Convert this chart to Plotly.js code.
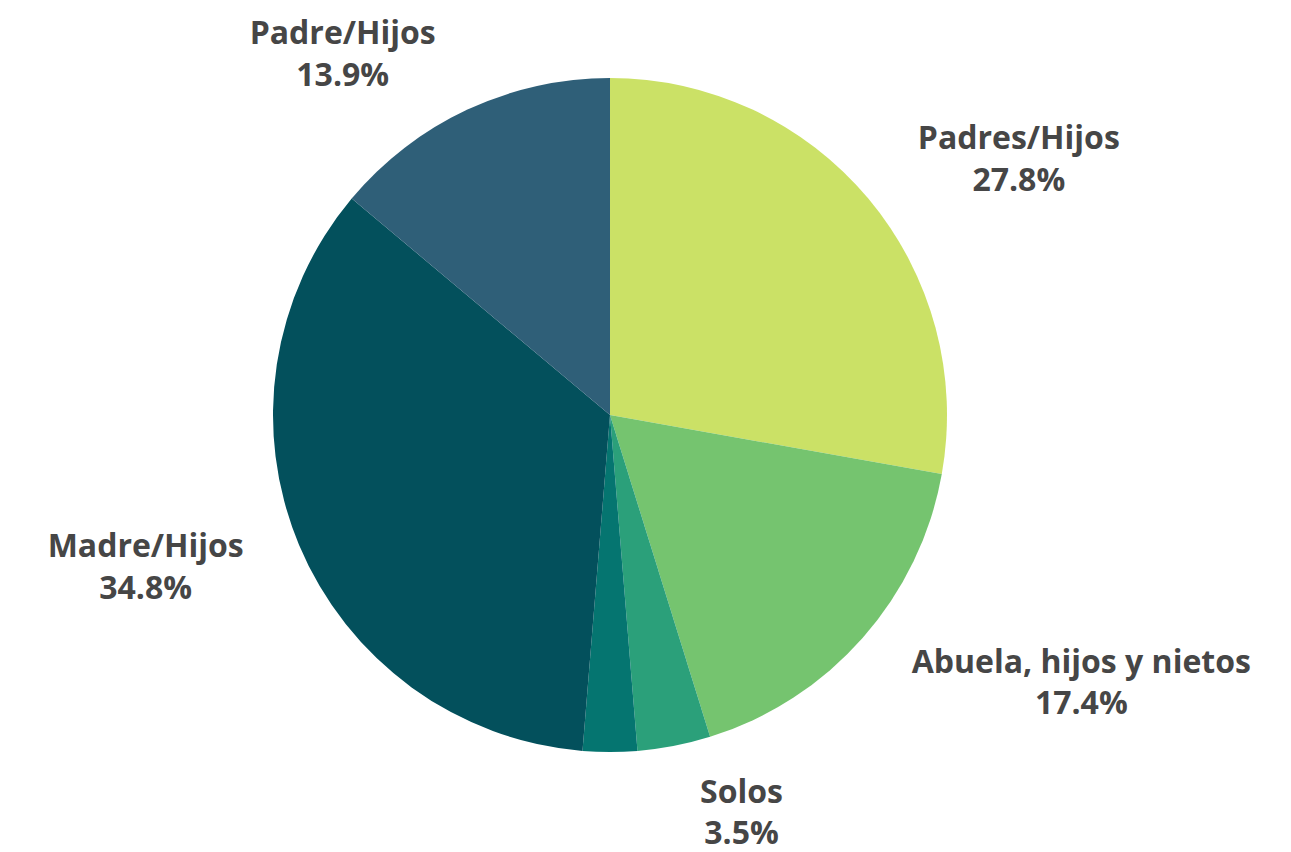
<!DOCTYPE html>
<html>
<head>
<meta charset="utf-8">
<script src="https://cdn.plot.ly/plotly-3.0.1.min.js"></script>
<style>html,body{margin:0;padding:0;background:#fff;}#chart{width:1291px;height:852px;}</style>
</head>
<body>
<div id="chart"></div>
<script>
const categories = ["Padres/Hijos", "Abuela, hijos y nietos", "Solos", "Otros", "Madre/Hijos", "Padre/Hijos"];
const shares = [27.8, 17.4, 3.5, 2.6, 34.8, 13.9];
// label ring each category's label sits on (0 = outer, 1 = inner, null = no label)
const labelRing = [0, 0, 1, null, 0, 1];
const colors = ["#CBE166", "#75C46F", "#2BA07A", "#057570", "#03505C", "#2F5F78"];

const W = 1291, H = 852, cx = 610, cy = 415, R = 337;
const ringRadius = [374, 362];

function domainFor(r) {
  return {x: [(cx - r) / W, (cx + r) / W], y: [(H - cy - r) / H, (H - cy + r) / H]};
}

// Visible pie slices
const slices = {
  type: "pie",
  labels: categories,
  values: shares,
  textinfo: "none",
  sort: false,
  direction: "clockwise",
  rotation: 0,
  marker: {colors: colors, line: {width: 0}},
  hoverinfo: "label+percent",
  domain: domainFor(R),
  automargin: false
};

// Same data, transparent, slightly larger: carry the outside labels a bit away from the edge
const labelPies = ringRadius.map((r, ring) => ({
  type: "pie",
  labels: categories,
  values: shares,
  text: categories.map((c, i) => labelRing[i] === ring ? "<b>" + c + "</b><br><b>" + shares[i].toFixed(1) + "%</b>" : ""),
  textinfo: "text",
  textposition: "outside",
  sort: false,
  direction: "clockwise",
  rotation: 0,
  marker: {colors: categories.map(() => "rgba(0,0,0,0)"), line: {width: 0}},
  outsidetextfont: {family: "Open Sans", size: 32, color: "#464646"},
  hoverinfo: "skip",
  domain: domainFor(r),
  automargin: false
}));

Plotly.newPlot("chart", [slices].concat(labelPies), {
  width: W, height: H,
  margin: {l: 0, r: 0, t: 0, b: 0},
  showlegend: false,
  paper_bgcolor: "#ffffff",
  font: {family: "Open Sans", color: "#464646"}
}, {displayModeBar: false, staticPlot: true});
</script>
</body>
</html>
